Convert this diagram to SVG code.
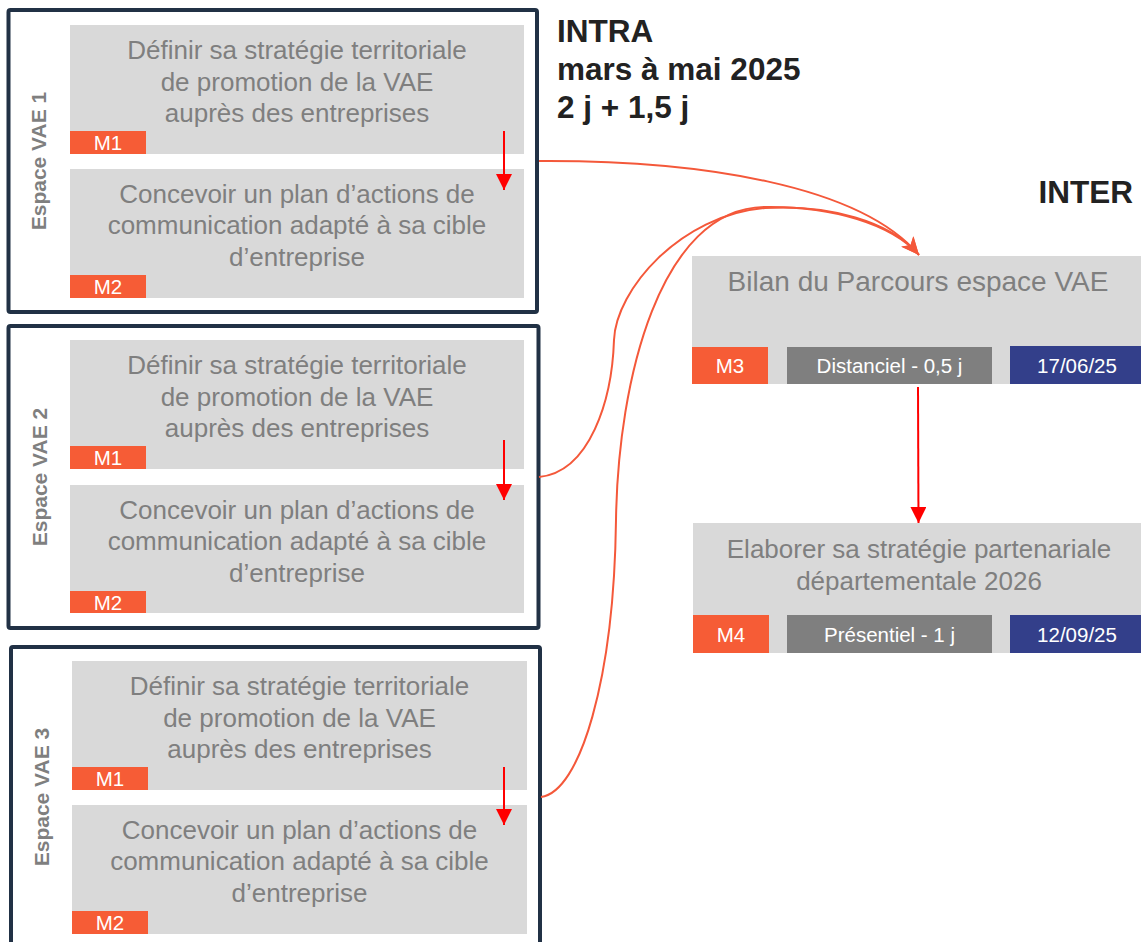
<svg xmlns="http://www.w3.org/2000/svg" width="1141" height="942" viewBox="0 0 1141 942">
<defs>
<style>
.frame{fill:#fff;stroke:#213145;stroke-width:4}
.card{fill:#d9d9d9}
.txt{font-family:"Liberation Sans",Arial,sans-serif;font-size:26px;fill:#7f7f7f;text-anchor:middle}
.side{font-family:"Liberation Sans",Arial,sans-serif;font-size:21px;font-weight:bold;fill:#7f7f7f;text-anchor:middle}
.tag{fill:#f65c36}
.grey{fill:#7f7f7f}
.navy{fill:#333f8a}
.lab{font-family:"Liberation Sans",Arial,sans-serif;font-size:20.5px;fill:#fff;text-anchor:middle}
.title{font-family:"Liberation Sans",Arial,sans-serif;font-size:31.5px;font-weight:bold;fill:#222}
.red{stroke:#ff0000;stroke-width:2;fill:none}
.cur{stroke:#f4583a;stroke-width:2;fill:none}
</style>
<marker id="ar" viewBox="0 0 16 16" refX="16" refY="8" markerWidth="16" markerHeight="16" markerUnits="userSpaceOnUse" orient="auto">
<path d="M0,0 L16,8 L0,16 z" fill="#ff0000"/>
</marker>
<marker id="ao" viewBox="0 0 18 16" refX="18" refY="8" markerWidth="18" markerHeight="16" markerUnits="userSpaceOnUse" orient="auto">
<path d="M0,0 L18,8 L0,16 L5,8 z" fill="#f4583a"/>
</marker>
</defs>
<rect width="1141" height="942" fill="#fff"/>

<g id="espace1">
<rect class="frame" x="8.5" y="10" width="528.5" height="302" rx="2"/>
<text class="side" transform="translate(46,161) rotate(-90)">Espace VAE 1</text>
<rect class="card" x="70" y="25" width="454" height="129"/>
<text class="txt" x="297" y="59">Définir sa stratégie territoriale</text>
<text class="txt" x="297" y="91">de promotion de la VAE</text>
<text class="txt" x="297" y="122">auprès des entreprises</text>
<rect class="tag" x="70" y="131" width="76" height="23"/>
<text class="lab" x="108" y="150">M1</text>
<rect class="card" x="70" y="169" width="454" height="129"/>
<text class="txt" x="297" y="203">Concevoir un plan d’actions de</text>
<text class="txt" x="297" y="234">communication adapté à sa cible</text>
<text class="txt" x="297" y="266">d’entreprise</text>
<rect class="tag" x="70" y="275" width="76" height="23"/>
<text class="lab" x="108" y="294">M2</text>
</g>

<g id="espace2">
<rect class="frame" x="8.5" y="326" width="530" height="302" rx="2"/>
<text class="side" transform="translate(47,477) rotate(-90)">Espace VAE 2</text>
<rect class="card" x="70" y="340" width="454" height="129"/>
<text class="txt" x="297" y="374">Définir sa stratégie territoriale</text>
<text class="txt" x="297" y="406">de promotion de la VAE</text>
<text class="txt" x="297" y="437">auprès des entreprises</text>
<rect class="tag" x="70" y="446" width="76" height="23"/>
<text class="lab" x="108" y="465">M1</text>
<rect class="card" x="70" y="485" width="454" height="128"/>
<text class="txt" x="297" y="519">Concevoir un plan d’actions de</text>
<text class="txt" x="297" y="550">communication adapté à sa cible</text>
<text class="txt" x="297" y="582">d’entreprise</text>
<rect class="tag" x="70" y="591" width="76" height="22"/>
<text class="lab" x="108" y="610">M2</text>
</g>

<g id="espace3">
<rect class="frame" x="11" y="647" width="529" height="310" rx="2"/>
<text class="side" transform="translate(49,797) rotate(-90)">Espace VAE 3</text>
<rect class="card" x="72" y="661" width="455" height="129"/>
<text class="txt" x="299.5" y="695">Définir sa stratégie territoriale</text>
<text class="txt" x="299.5" y="727">de promotion de la VAE</text>
<text class="txt" x="299.5" y="758">auprès des entreprises</text>
<rect class="tag" x="72" y="767" width="76" height="23"/>
<text class="lab" x="110" y="786">M1</text>
<rect class="card" x="72" y="805" width="455" height="129"/>
<text class="txt" x="299.5" y="839">Concevoir un plan d’actions de</text>
<text class="txt" x="299.5" y="870">communication adapté à sa cible</text>
<text class="txt" x="299.5" y="902">d’entreprise</text>
<rect class="tag" x="72" y="911" width="76" height="23"/>
<text class="lab" x="110" y="930">M2</text>
</g>

<g id="titles">
<text class="title" x="557" y="42">INTRA</text>
<text class="title" x="557" y="80">mars à mai 2025</text>
<text class="title" x="557" y="118">2 j + 1,5 j</text>
<text class="title" x="1133" y="203" text-anchor="end">INTER</text>
</g>

<g id="bilan">
<rect class="card" x="692" y="256" width="449" height="128"/>
<text class="txt" x="918" y="291" style="font-size:28px">Bilan du Parcours espace VAE</text>
<rect class="tag" x="692" y="347" width="76" height="37"/>
<text class="lab" x="730" y="373">M3</text>
<rect class="grey" x="787" y="347" width="205" height="37"/>
<text class="lab" x="889.5" y="373">Distanciel - 0,5 j</text>
<rect class="navy" x="1010" y="346" width="131" height="38"/>
<text class="lab" x="1077" y="373">17/06/25</text>
</g>

<g id="elaborer">
<rect class="card" x="693" y="523" width="448" height="130"/>
<text class="txt" x="919" y="558">Elaborer sa stratégie partenariale</text>
<text class="txt" x="919" y="590">départementale 2026</text>
<rect class="tag" x="693" y="615" width="76" height="38"/>
<text class="lab" x="731" y="642">M4</text>
<rect class="grey" x="787" y="615" width="205" height="38"/>
<text class="lab" x="889.5" y="642">Présentiel - 1 j</text>
<rect class="navy" x="1010" y="615" width="131" height="38"/>
<text class="lab" x="1077" y="642">12/09/25</text>
</g>

<g id="connectors">
<line class="red" x1="504" y1="131" x2="504" y2="190" marker-end="url(#ar)"/>
<line class="red" x1="504" y1="440" x2="504" y2="500" marker-end="url(#ar)"/>
<line class="red" x1="504" y1="767" x2="504" y2="825" marker-end="url(#ar)"/>
<line class="red" x1="918" y1="387" x2="918.5" y2="523" marker-end="url(#ar)"/>
<path class="cur" d="M539,161 C700,160 860,185 919,255" marker-end="url(#ao)"/>
<path class="cur" d="M539,477 C590,472 612,400 614,340 C616,290 680,215 765,208 C830,204 890,222 917,253"/>
<path class="cur" d="M541,797 C580,792 614,680 616,520 C618,380 660,208 765,207 C832,206 892,224 919,255" marker-end="url(#ao)"/>
</g>
</svg>
